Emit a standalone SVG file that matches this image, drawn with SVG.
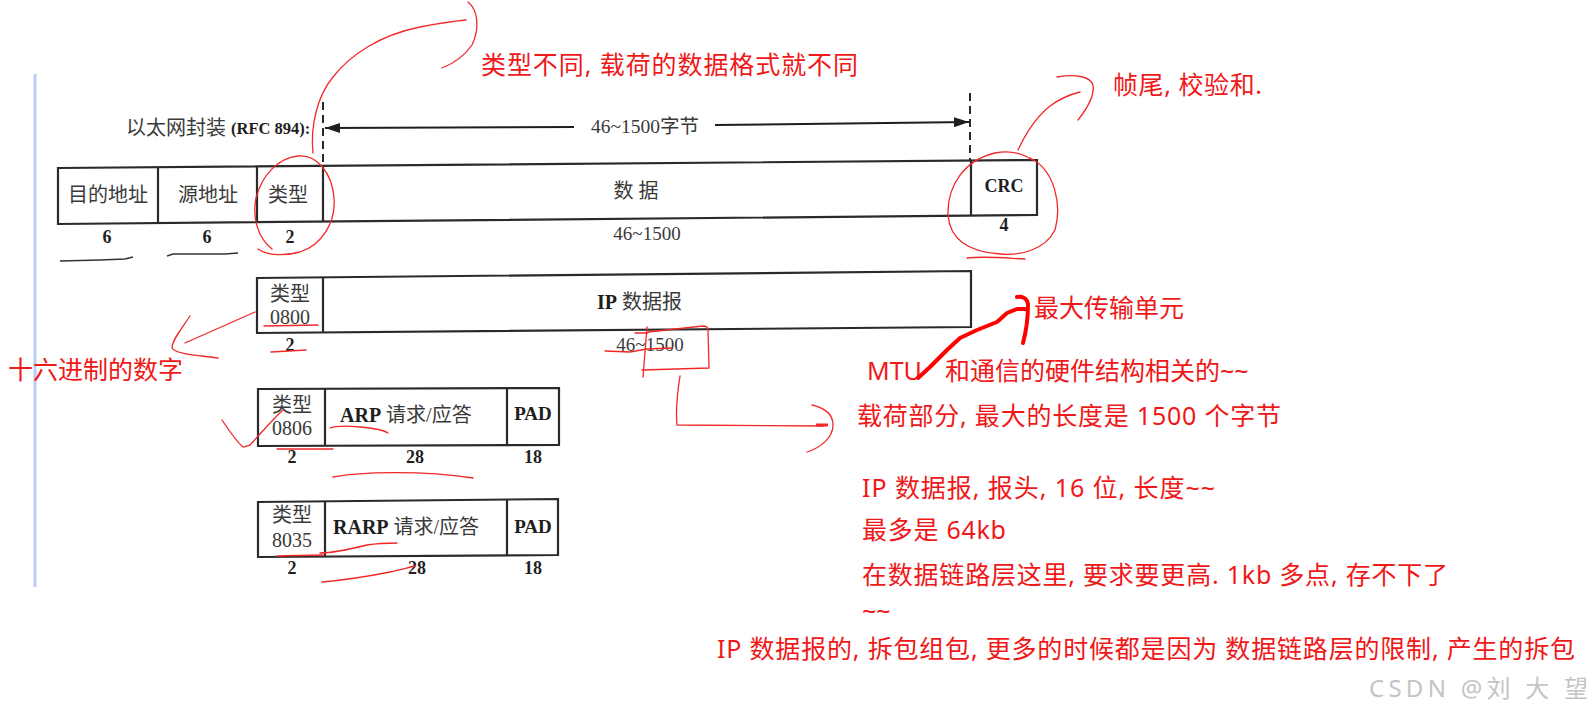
<svg xmlns="http://www.w3.org/2000/svg" width="1594" height="708" viewBox="0 0 1594 708">
<style>
.bk{font-family:'Liberation Serif','Noto Sans CJK SC',serif;fill:#3a3a3a;dominant-baseline:central}
.lbl{font-size:20px;text-anchor:middle}
.num{font-size:18px;font-weight:bold;fill:#1e1e1e;text-anchor:middle}
.bold{font-weight:bold;fill:#1e1e1e}
.box{fill:#fff;stroke:#2a2a2a;stroke-width:2.2;stroke-linejoin:miter}
.div{stroke:#2a2a2a;stroke-width:2.2;fill:none}
.red{font-family:'Noto Sans','Noto Sans CJK SC',sans-serif;font-size:25px;fill:#f01818;dominant-baseline:central}
.ink{fill:none;stroke:#f02828;stroke-width:1.3;stroke-linecap:round;stroke-linejoin:round}
.thick{fill:none;stroke:#ff0000;stroke-width:4;stroke-linecap:round;stroke-linejoin:round}
</style>
<defs>
<marker id="ahR" markerWidth="16" markerHeight="12" refX="15" refY="6" orient="auto" markerUnits="userSpaceOnUse"><path d="M0,1 L15,6 L0,11 Z" fill="#1e1e1e"/></marker>
</defs>
<rect width="1594" height="708" fill="#fff"/>
<line x1="35" y1="74" x2="35" y2="587" stroke="#b9cdf5" stroke-width="3"/>

<g id="header">
<text class="bk" x="126" y="128" font-size="20">以太网封装 <tspan class="bold" font-size="16.5">(RFC 894):</tspan></text>
<text class="bk" x="645" y="126" font-size="19.5" text-anchor="middle">46~1500字节</text>
</g>

<g id="connectors">
<line x1="323" y1="102" x2="323" y2="166" stroke="#2a2a2a" stroke-width="2" stroke-dasharray="8,5"/>
<line x1="970" y1="93" x2="970" y2="160" stroke="#2a2a2a" stroke-width="2" stroke-dasharray="8,5"/>
<line x1="574" y1="127" x2="325" y2="128" stroke="#1e1e1e" stroke-width="2" marker-end="url(#ahR)"/>
<line x1="715" y1="125" x2="969" y2="122" stroke="#1e1e1e" stroke-width="2" marker-end="url(#ahR)"/>
</g>

<g id="row-ethernet">
<path class="box" d="M58,168 L1037,160 L1037,215 L58,224 Z"/>
<path class="div" d="M158,167.2 V223.1 M257,166.4 V222.2 M323,165.8 V221.6 M971,160.5 V215.3"/>
<text class="bk lbl" x="108" y="195">目的地址</text>
<text class="bk lbl" x="208" y="195">源地址</text>
<text class="bk lbl" x="288" y="195">类型</text>
<text class="bk lbl" x="636" y="191">数 据</text>
<text class="bk bold" x="1004" y="186" font-size="18" text-anchor="middle">CRC</text>
<text class="bk num" x="107" y="237">6</text>
<text class="bk num" x="207" y="237">6</text>
<text class="bk num" x="290" y="237">2</text>
<text class="bk" x="647" y="233" font-size="19" text-anchor="middle">46~1500</text>
<text class="bk num" x="1004" y="225">4</text>
<path d="M60,261 L100,260 L125,259 L133,257 M167,256 L173,254 L225,254 L238,253" fill="none" stroke="#333" stroke-width="1.4"/>
</g>

<g id="row-ip">
<path class="box" d="M257,278 L971,271 L971,327 L257,333 Z"/>
<path class="div" d="M323,277.4 V332.4"/>
<text class="bk lbl" x="290" y="294" font-size="19">类型</text>
<text class="bk lbl" x="290" y="317" font-size="20">0800</text>
<text class="bk" x="597" y="302" font-size="20"><tspan class="bold">IP</tspan> 数据报</text>
<text class="bk num" x="290" y="345">2</text>
<text class="bk" x="650" y="344" font-size="19" text-anchor="middle">46~1500</text>
</g>

<g id="row-arp">
<path class="box" d="M258,389 L559,388 L559,445 L258,446 Z"/>
<path class="div" d="M325,389 V446 M507,388.4 V445.4"/>
<text class="bk lbl" x="292" y="405" font-size="19">类型</text>
<text class="bk lbl" x="292" y="428" font-size="20">0806</text>
<text class="bk" x="340" y="415" font-size="20"><tspan class="bold">ARP</tspan> 请求/应答</text>
<text class="bk bold" x="533" y="413" font-size="19" text-anchor="middle">PAD</text>
<text class="bk num" x="292" y="457">2</text>
<text class="bk num" x="415" y="457">28</text>
<text class="bk num" x="533" y="457">18</text>
</g>

<g id="row-rarp">
<path class="box" d="M258,502 L558,499 L558,555 L258,557 Z"/>
<path class="div" d="M325,501.3 V556.6 M507,499.5 V555.3"/>
<text class="bk lbl" x="292" y="515" font-size="19">类型</text>
<text class="bk lbl" x="292" y="540" font-size="20">8035</text>
<text class="bk" x="333" y="527" font-size="20"><tspan class="bold">RARP</tspan> 请求/应答</text>
<text class="bk bold" x="533" y="526" font-size="19" text-anchor="middle">PAD</text>
<text class="bk num" x="292" y="568">2</text>
<text class="bk num" x="417" y="568">28</text>
<text class="bk num" x="533" y="568">18</text>
</g>

<g id="annotation-type">
<path class="ink" d="M258,249 C268,256 285,256 300,252 C322,245 336,222 334,198 C332,172 316,154 298,156 C278,158 262,175 256,198 C252,218 258,238 272,249"/>
<path class="ink" d="M313,153 C310,125 318,95 333,77 C350,55 380,35 420,27 C440,23 455,21 466,20"/>
<path class="ink" d="M468,2 C478,10 480,28 472,45 C465,55 455,63 442,68"/>
<text class="red" x="481" y="64" textLength="377" lengthAdjust="spacing">类型不同, 载荷的数据格式就不同</text>
</g>

<g id="annotation-crc">
<path class="ink" d="M1030,158 C1055,170 1062,205 1055,230 C1045,250 1020,256 1000,254 C970,252 950,240 948,215 C947,185 965,160 995,153 C1010,150 1022,153 1032,160"/>
<path class="ink" d="M967,258 C985,256 1005,258 1025,259"/>
<path class="ink" d="M1018,150 C1025,135 1035,118 1050,106 C1062,97 1072,94 1080,92"/>
<path class="ink" d="M1057,77 C1075,74 1090,76 1093,85 C1095,97 1086,110 1078,120"/>
<text class="red" x="1113" y="84" textLength="149" lengthAdjust="spacing">帧尾, 校验和.</text>
</g>

<g id="annotation-hex">
<path class="ink" d="M264,326 L318,325 M271,352 L306,350"/>
<path class="ink" d="M255,312 L185,343"/>
<path class="ink" d="M190,316 C182,328 172,340 172,348 C176,354 195,355 218,358"/>
<text class="red" x="8" y="369">十六进制的数字</text>
</g>

<g id="annotation-arp">
<path class="ink" d="M222,420 C230,432 238,443 243,447 L250,445 C262,432 272,420 283,410"/>
<path class="ink" d="M277,449 L333,449"/>
<path class="ink" d="M330,428 C338,425 350,426 360,427 C372,428 382,429 388,433"/>
<path class="ink" d="M333,477 C360,472 420,470 473,478"/>
<path class="ink" d="M277,556 L323,555"/>
<path class="ink" d="M320,553 C335,553 355,548 367,545 C380,543 390,543 397,543"/>
<path class="ink" d="M322,582 C345,580 370,576 390,572 C400,570 410,567 415,566"/>
</g>

<g id="annotation-payload">
<path class="ink" d="M605,351 L630,352 L647,349 L672,348"/>
<path class="ink" d="M635,333 L648,333"/>
<path class="ink" d="M647,327 L643,377"/>
<path class="ink" d="M648,332 L703,326 Q708,326 708,330 L709,368 L642,370"/>
<path class="ink" d="M680,376 C677,395 676,415 677,425 L823,426"/>
<path d="M816,425 L828,425" stroke="#f02828" stroke-width="3"/>
<path class="ink" d="M812,405 C825,408 833,415 833,425 C833,438 820,448 807,452"/>
<text class="red" x="857" y="415" textLength="424" lengthAdjust="spacing">载荷部分, 最大的长度是 1500 个字节</text>
</g>

<g id="annotation-mtu">
<path class="thick" d="M918,378 L930,367 L947,350 L960,338 L977,330 L997,322 L1007,313 L1017,309 L1027,309"/>
<path class="thick" stroke-width="3.5" d="M1017,297 C1022,296 1027,298 1028,304 C1028,318 1026,332 1023,343"/>
<text class="red" x="1034" y="307">最大传输单元</text>
<text class="red" x="867" y="370">MTU <tspan x="945">和通信的硬件结构相关的~~</tspan></text>
</g>

<g id="notes">
<text class="red" x="862" y="487" textLength="353" lengthAdjust="spacing">IP 数据报, 报头, 16 位, 长度~~</text>
<text class="red" x="862" y="529" textLength="144" lengthAdjust="spacing">最多是 64kb</text>
<text class="red" x="862" y="574" textLength="586" lengthAdjust="spacing">在数据链路层这里, 要求要更高. 1kb 多点, 存不下了</text>
<text class="red" x="862" y="610">~~</text>
<text class="red" x="717" y="648" textLength="858" lengthAdjust="spacing">IP 数据报的, 拆包组包, 更多的时候都是因为 数据链路层的限制, 产生的拆包</text>
</g>

<text x="1369" y="687" font-family="'Noto Sans','Noto Sans CJK SC',sans-serif" font-size="24" fill="#c4c4c4" dominant-baseline="central" textLength="219" lengthAdjust="spacing">CSDN @刘 大 望</text>
</svg>
